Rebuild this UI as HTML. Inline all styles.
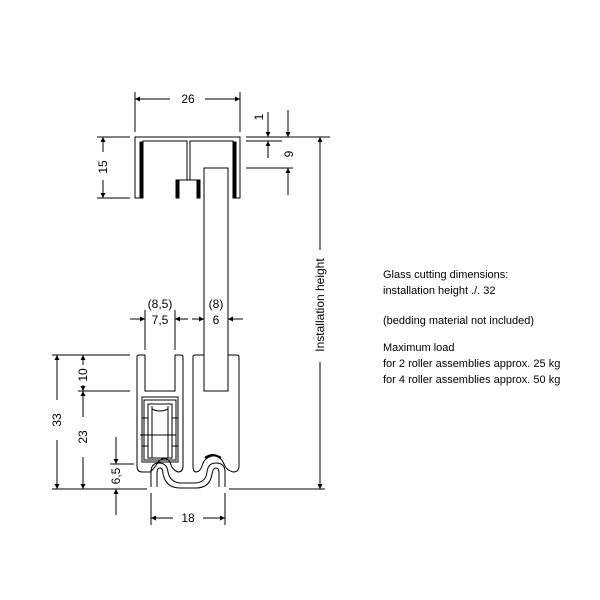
<!DOCTYPE html>
<html><head><meta charset="utf-8"><style>html,body{margin:0;padding:0;background:#fff}svg{display:block}</style></head>
<body>
<svg width="600" height="600" viewBox="0 0 600 600" xmlns="http://www.w3.org/2000/svg" font-family="Liberation Sans, sans-serif">
<defs>
<marker id="a" viewBox="0 0 10 10" refX="10" refY="5" markerWidth="8" markerHeight="5" orient="auto-start-reverse" markerUnits="userSpaceOnUse"><path d="M0,0L10,5L0,10z" fill="#000"/></marker>
</defs>
<g stroke="#000" stroke-width="1" fill="none">
<!-- top profile -->
<path d="M135,198 V137 H240 V198 H233 V141 H190 V180 H187 V141 H143 V198 Z" fill="#fff"/>
<rect x="140" y="142" width="3" height="56" fill="#000"/>
<rect x="233" y="142" width="3" height="56" fill="#000"/>
<path d="M176,198 V180 H200 V198"/>
<rect x="176" y="180" width="3" height="18" fill="#000"/>
<rect x="197" y="180" width="3" height="18" fill="#000"/>
<!-- bottom profile left -->
<path d="M137,357 Q137,355 139,355 H145 V391 H175 V355 H181 Q183,355 183,357 V466 Q183,472 178,472 Q172,470 170,462 Q165,455 158,462 Q155,468 150,472 H142 Q137,472 137,466 Z" fill="#fff"/>
<!-- bottom profile right -->
<path d="M193,357 Q193,355 195,355 H237 Q239,355 239,357 V466 Q239,472 233,472 Q226,470 224,464 Q220,455 212,456 Q204,458 202,466 Q200,472 196,472 Q193,472 193,466 Z" fill="#fff"/>
<path d="M205,458 Q212,452 221,458" stroke-width="2"/>
<!-- glass -->
<path d="M204,168 H228 V391 H204 Z" fill="#fff"/>
<!-- 26 dim -->
<line x1="135" y1="92" x2="135" y2="132"/><line x1="240" y1="92" x2="240" y2="132"/>
<line x1="135" y1="99" x2="170" y2="99" marker-start="url(#a)"/><line x1="205" y1="99" x2="240" y2="99" marker-end="url(#a)"/>
<!-- 15 dim -->
<line x1="97" y1="137" x2="130" y2="137"/><line x1="97" y1="198" x2="130" y2="198"/>
<line x1="103" y1="137" x2="103" y2="152" marker-start="url(#a)"/><line x1="103" y1="180" x2="103" y2="198" marker-end="url(#a)"/>
<!-- right dims -->
<line x1="246" y1="137" x2="330" y2="137"/>
<line x1="246" y1="141" x2="282" y2="141"/>
<line x1="246" y1="168" x2="293" y2="168"/>
<line x1="268" y1="112" x2="268" y2="137" marker-end="url(#a)"/>
<line x1="268" y1="141" x2="268" y2="158" marker-start="url(#a)"/>
<line x1="288" y1="110" x2="288" y2="137" marker-end="url(#a)"/>
<line x1="288" y1="168" x2="288" y2="195" marker-start="url(#a)"/>
<!-- installation height -->
<line x1="320" y1="137" x2="320" y2="250" marker-start="url(#a)"/>
<line x1="320" y1="362" x2="320" y2="489" marker-end="url(#a)"/>
<!-- roller box -->
<rect x="142" y="397" width="36" height="65"/>
<rect x="144" y="400" width="32" height="60"/>
<rect x="148" y="404" width="24" height="54"/>
<path d="M152,406 V458 M168,406 V458 M152,409 Q160,413 168,409"/>
<line x1="140" y1="435" x2="176" y2="435"/>
<line x1="142" y1="418" x2="148" y2="418"/><line x1="172" y1="418" x2="178" y2="418"/>
<line x1="142" y1="446" x2="148" y2="446"/><line x1="172" y1="446" x2="178" y2="446"/>
<!-- guide rail -->
<path d="M151,487 V472 Q151,463 159,463 Q167,463 168,472 Q170,482 180,483 H196 Q206,482 207,472 Q208,463 216,463 Q225,463 225,472 V487"/>
<path d="M157,487 V473 Q157,468 160,468 Q163,468 163,474 Q166,488 180,488 H196 Q210,488 212,474 Q213,468 216,468 Q219,468 219,473 V487"/>
<!-- floor line -->
<line x1="52" y1="489" x2="147" y2="489"/><line x1="229" y1="489" x2="325" y2="489"/>
<!-- 33 / 23 / 10 dims -->
<line x1="52" y1="355" x2="130" y2="355"/>
<line x1="78" y1="391" x2="130" y2="391"/>
<line x1="57" y1="355" x2="57" y2="400" marker-start="url(#a)"/><line x1="57" y1="440" x2="57" y2="489" marker-end="url(#a)"/>
<line x1="83" y1="355" x2="83" y2="365" marker-start="url(#a)"/><line x1="83" y1="385" x2="83" y2="391" marker-end="url(#a)"/>
<line x1="83" y1="391" x2="83" y2="417" marker-start="url(#a)"/><line x1="83" y1="457" x2="83" y2="489" marker-end="url(#a)"/>
<!-- 6,5 -->
<line x1="110" y1="464" x2="134" y2="464"/>
<line x1="116" y1="437" x2="116" y2="464" marker-end="url(#a)"/>
<line x1="116" y1="489" x2="116" y2="515" marker-start="url(#a)"/>
<!-- 18 -->
<line x1="151" y1="493" x2="151" y2="525"/><line x1="225" y1="493" x2="225" y2="525"/>
<line x1="151" y1="518" x2="173" y2="518" marker-start="url(#a)"/><line x1="203" y1="518" x2="225" y2="518" marker-end="url(#a)"/>
<!-- 7,5 / 6 -->
<line x1="145" y1="310" x2="145" y2="350"/><line x1="175" y1="310" x2="175" y2="350"/>
<line x1="130" y1="319" x2="145" y2="319" marker-end="url(#a)"/>
<line x1="188" y1="319" x2="175" y2="319" marker-end="url(#a)"/>
<line x1="192" y1="319" x2="204" y2="319" marker-end="url(#a)"/>
<line x1="243" y1="319" x2="228" y2="319" marker-end="url(#a)"/>
</g>
<g font-size="12" fill="#000" text-anchor="middle">
<text x="188" y="103">26</text>
<text x="160" y="308">(8,5)</text>
<text x="160" y="324">7,5</text>
<text x="216" y="308">(8)</text>
<text x="216" y="324">6</text>
<text x="188" y="522">18</text>
<text transform="translate(107,167) rotate(-90)">15</text>
<text transform="translate(61,420) rotate(-90)">33</text>
<text transform="translate(87,437) rotate(-90)">23</text>
<text transform="translate(87,375) rotate(-90)">10</text>
<text transform="translate(120,476) rotate(-90)">6,5</text>
<text transform="translate(263,117) rotate(-90)">1</text>
<text transform="translate(293,154) rotate(-90)">9</text>
<text transform="translate(324,305) rotate(-90)">Installation height</text>
</g>
<g font-size="11" fill="#000">
<text x="383" y="278">Glass cutting dimensions:</text>
<text x="383" y="294">installation height ./. 32</text>
<text x="383" y="324">(bedding material not included)</text>
<text x="383" y="351">Maximum load</text>
<text x="383" y="367">for 2 roller assemblies approx. 25 kg</text>
<text x="383" y="383">for 4 roller assemblies approx. 50 kg</text>
</g>
</svg>
</body></html>
